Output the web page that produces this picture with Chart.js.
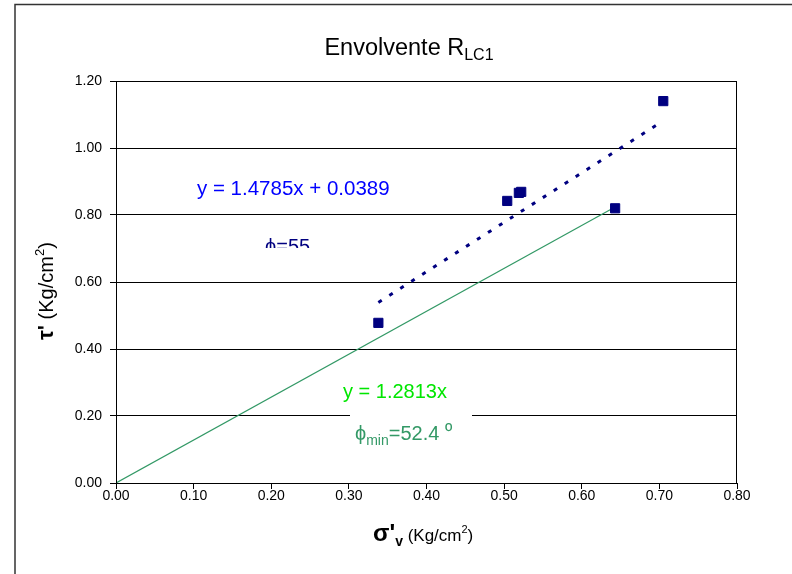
<!DOCTYPE html>
<html>
<head>
<meta charset="utf-8">
<script src="https://cdn.jsdelivr.net/npm/chart.js@4"></script>
<style>
  body { margin: 0; background: #fff; }
  canvas { display: block; }
</style>
</head>
<body>
<canvas id="chart" width="792" height="574"></canvas>
<script>
// measured points (sigma'v, tau)
const sigmaV = [0.338, 0.504, 0.519, 0.522, 0.643, 0.705];
const tau = [0.478, 0.842, 0.866, 0.869, 0.820, 1.140];

// linear trend y = 1.4785x + 0.0389 (ends)
const trendX = [0.338, 0.705];
const trendY = [0.539, 1.081];

// envelope through origin y = 1.2813x
const minX = [0, 0.643];
const minY = [0, 0.824];

const xTicks = [0, 0.1, 0.2, 0.3, 0.4, 0.5, 0.6, 0.7, 0.8];
const yTicks = [0, 0.2, 0.4, 0.6, 0.8, 1.0, 1.2];

const FONT = '"Liberation Sans", Arial, sans-serif';

function toXY(xs, ys) {
  return xs.map((x, i) => ({ x: x, y: ys[i] }));
}

// draw a run of text pieces, each {t, size, bold, dy}
function drawRun(ctx, pieces, x, y) {
  let cx = x;
  pieces.forEach(p => {
    ctx.font = (p.bold ? 'bold ' : '') + p.size + 'px ' + FONT;
    ctx.fillText(p.t, cx, y + (p.dy || 0));
    cx += ctx.measureText(p.t).width;
  });
  return cx;
}

function runWidth(ctx, pieces) {
  let w = 0;
  pieces.forEach(p => {
    ctx.font = (p.bold ? 'bold ' : '') + p.size + 'px ' + FONT;
    w += ctx.measureText(p.t).width;
  });
  return w;
}

const decor = {
  id: 'decor',
  afterDraw(chart) {
    const ctx = chart.ctx;
    const a = chart.chartArea;
    ctx.save();

    // plot border
    ctx.strokeStyle = '#000';
    ctx.lineWidth = 1;
    ctx.strokeRect(a.left + 0.5, a.top + 0.5, a.right - a.left - 1, a.bottom - a.top);

    // outer frame (cut by the picture edge)
    ctx.strokeStyle = '#333';
    ctx.lineWidth = 1.5;
    ctx.beginPath();
    ctx.moveTo(15, 574);
    ctx.lineTo(15, 4.5);
    ctx.lineTo(792, 4.5);
    ctx.stroke();

    ctx.textBaseline = 'alphabetic';
    ctx.textAlign = 'left';

    // title
    ctx.fillStyle = '#000';
    const title = [
      { t: 'Envolvente R', size: 23.5 },
      { t: 'LC1', size: 16, dy: 5 }
    ];
    drawRun(ctx, title, 409 - runWidth(ctx, title) / 2, 55);

    // trend equation
    ctx.fillStyle = '#0000ff';
    drawRun(ctx, [{ t: 'y = 1.4785x + 0.0389', size: 20.5 }], 197, 195);

    // phi=55, cut at its lower part
    ctx.save();
    ctx.beginPath();
    ctx.rect(255, 225, 70, 23);
    ctx.clip();
    ctx.fillStyle = '#000080';
    drawRun(ctx, [{ t: 'ϕ=55', size: 20 }], 265, 253);
    ctx.restore();

    // min envelope equation
    ctx.fillStyle = '#00e600';
    drawRun(ctx, [{ t: 'y = 1.2813x', size: 20 }], 343, 398);

    ctx.fillStyle = '#fff';
    ctx.fillRect(350, 407, 122, 36);
    ctx.fillStyle = '#339966';
    drawRun(ctx, [
      { t: 'ϕ', size: 20 },
      { t: 'min', size: 14, dy: 5 },
      { t: '=52.4 ', size: 20 },
      { t: 'º', size: 20, dy: -2 }
    ], 355, 440);

    // x axis title
    ctx.fillStyle = '#000';
    drawRun(ctx, [
      { t: 'σ\'', size: 24, bold: true },
      { t: 'v', size: 14, bold: true, dy: 5 },
      { t: ' (Kg/cm', size: 17 },
      { t: '2', size: 11, dy: -8 },
      { t: ')', size: 17 }
    ], 373, 541);

    // y axis title, rotated
    ctx.save();
    ctx.translate(53, 340);
    ctx.rotate(-Math.PI / 2);
    drawRun(ctx, [
      { t: 'τ\'', size: 22, bold: true },
      { t: ' (Kg/cm', size: 20 },
      { t: '2', size: 13, dy: -9 },
      { t: ')', size: 20 }
    ], 0, 0);
    ctx.restore();

    ctx.restore();
  }
};

new Chart(document.getElementById('chart'), {
  type: 'scatter',
  data: {
    datasets: [
      {
        label: 'min',
        data: toXY(minX, minY),
        showLine: true,
        borderColor: '#339966',
        borderWidth: 1.2,
        pointRadius: 0,
        order: 3
      },
      {
        label: 'trend',
        data: toXY(trendX, trendY),
        showLine: true,
        borderColor: '#000080',
        borderWidth: 3,
        borderDash: [4, 9],
        pointRadius: 0,
        order: 2
      },
      {
        label: 'datos',
        data: toXY(sigmaV, tau),
        pointStyle: 'rect',
        pointRadius: 6.5,
        pointBackgroundColor: '#000080',
        pointBorderColor: '#000080',
        pointBorderWidth: 1,
        order: 1
      }
    ]
  },
  options: {
    responsive: false,
    animation: false,
    devicePixelRatio: 1,
    layout: { padding: { left: 0, right: 55, top: 81, bottom: 0 } },
    plugins: {
      legend: { display: false },
      title: { display: false },
      tooltip: { enabled: false }
    },
    scales: {
      x: {
        type: 'linear',
        min: 0,
        max: 0.8,
        afterFit: s => { s.height = 91; },
        afterBuildTicks: s => { s.ticks = xTicks.map(v => ({ value: v })); },
        ticks: {
          color: '#000',
          font: { family: FONT, size: 14 },
          padding: -1,
          maxRotation: 0,
          callback: v => v.toFixed(2)
        },
        grid: {
          drawOnChartArea: false,
          drawTicks: true,
          tickLength: 6,
          color: '#000'
        },
        border: { color: '#000', width: 1 }
      },
      y: {
        type: 'linear',
        min: 0,
        max: 1.2,
        afterFit: s => { s.width = 116; },
        afterBuildTicks: s => { s.ticks = yTicks.map(v => ({ value: v })); },
        ticks: {
          color: '#000',
          font: { family: FONT, size: 14 },
          padding: 8,
          callback: v => v.toFixed(2)
        },
        grid: {
          drawTicks: true,
          tickLength: 6,
          color: '#000'
        },
        border: { color: '#000', width: 1 }
      }
    }
  },
  plugins: [decor]
});
</script>
</body>
</html>
